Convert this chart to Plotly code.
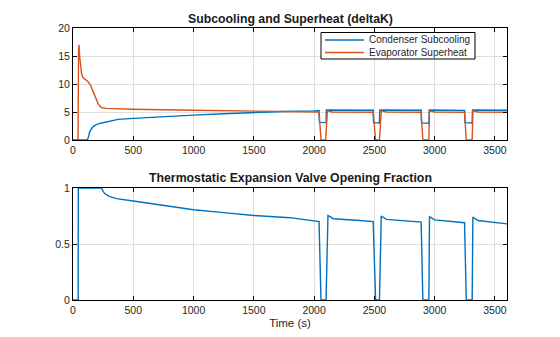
import plotly.graph_objects as go

# ---- data ----
sc_t = [0, 116, 125, 139, 166, 194, 230, 277, 374, 500, 750, 1000, 1250, 1500, 1750, 2000,
        2041, 2044, 2099, 2102, 2490, 2493, 2542, 2545, 2888, 2891, 2952, 2955,
        3248, 3251, 3311, 3314, 3600]
sc_v = [0, 0, 0.3, 1.5, 2.4, 2.75, 3.0, 3.26, 3.68, 3.86, 4.2, 4.45, 4.7, 4.93, 5.1, 5.2,
        5.25, 3.15, 3.1, 5.35, 5.3, 3.1, 3.05, 5.35, 5.3, 3.05, 3.0, 5.35,
        5.3, 3.1, 3.05, 5.35, 5.3]

sh_t = [0, 42, 46, 50, 55, 62, 70, 80, 100, 125, 145, 166, 188, 208, 225, 240, 277, 400,
        500, 1000, 1500, 2000, 2041, 2057, 2096, 2110, 2150, 2490, 2510, 2542, 2557, 2600,
        2888, 2902, 2952, 2957, 3000, 3248, 3262, 3311, 3317, 3360, 3600]
sh_v = [0, 0, 16.0, 17.0, 15.0, 13.0, 12.0, 11.2, 10.9, 10.4, 9.8, 8.7, 7.4, 6.5, 6.0, 5.75,
        5.65, 5.55, 5.5, 5.3, 5.1, 5.0, 5.0, 0, 0, 5.2, 5.0, 4.95, 0, 0, 5.2, 5.0,
        4.95, 0, 0, 5.2, 5.0, 4.95, 0, 0, 5.2, 5.0, 4.95]

v_t = [0, 43, 44, 236, 250, 263, 300, 360, 500, 750, 1000, 1250, 1500, 1800, 2041, 2057,
       2099, 2115, 2160, 2380, 2490, 2510, 2542, 2557, 2600, 2888, 2902, 2952, 2957, 3000,
       3248, 3262, 3311, 3317, 3360, 3600]
v_v = [0, 0, 1, 1, 0.97, 0.95, 0.925, 0.905, 0.884, 0.843, 0.806, 0.78, 0.755, 0.735, 0.70, 0,
       0, 0.755, 0.726, 0.71, 0.70, 0, 0, 0.75, 0.72, 0.695, 0, 0, 0.745, 0.715,
       0.69, 0, 0, 0.74, 0.71, 0.68]

x_ticks = [0, 500, 1000, 1500, 2000, 2500, 3000, 3500]
y1_ticks = [0, 5, 10, 15, 20]
y2_ticks = [0, 0.5, 1]
y2_labels = ["0", "0.5", "1"]

series_names = ["Condenser Subcooling", "Evaporator Superheat"]
title1 = "Subcooling and Superheat (deltaK)"
title2 = "Thermostatic Expansion Valve Opening Fraction"
xlabel = "Time (s)"

BLUE = "#0072BD"
ORANGE = "#D95319"
series_colors = [BLUE, ORANGE]
FONT = "Liberation Sans, Arial, Helvetica, sans-serif"
TXT = "#262626"

# plot area in pixels (used for decoration placement only)
L, R, T, B = 73, 507, 28, 300
def px(xp):
    return (xp - L) / (R - L)
def py(yp):
    return (B - yp) / (B - T)

fig = go.Figure()
fig.add_trace(go.Scatter(x=sc_t, y=sc_v, mode="lines", name=series_names[0],
                         line=dict(color=BLUE, width=1.4), xaxis="x", yaxis="y"))
fig.add_trace(go.Scatter(x=sh_t, y=sh_v, mode="lines", name=series_names[1],
                         line=dict(color=ORANGE, width=1.4), xaxis="x", yaxis="y"))
fig.add_trace(go.Scatter(x=v_t, y=v_v, mode="lines", name="Valve",
                         line=dict(color=BLUE, width=1.4), xaxis="x2", yaxis="y2"))

axis_common = dict(showline=True, linecolor="black", linewidth=1, mirror="allticks",
                   ticks="inside", ticklen=4, tickcolor="black", showgrid=True,
                   gridcolor="#dedede", gridwidth=1, zeroline=False, automargin=False,
                   tickfont=dict(family=FONT, size=10.5, color=TXT))

shapes = []
annotations = []
# legend box (MATLAB-style, compact)
shapes.append(dict(type="rect", xref="paper", yref="paper",
                   x0=px(321), x1=px(475), y0=py(59), y1=py(32.5),
                   line=dict(color="black", width=1), fillcolor="white", layer="above"))
for i, (nm, col) in enumerate(zip(series_names, series_colors)):
    yy = 40 + i * 12.5
    shapes.append(dict(type="line", xref="paper", yref="paper",
                       x0=px(325), x1=px(364), y0=py(yy), y1=py(yy),
                       line=dict(color=col, width=1.4), layer="above"))
    annotations.append(dict(text=nm, x=px(367), y=py(yy), xref="paper", yref="paper",
                            xanchor="left", yanchor="middle", showarrow=False,
                            font=dict(family=FONT, size=10, color=TXT)))

annotations.append(dict(text="<b>" + title1 + "</b>", x=0.5, y=py(18.5), xref="paper",
                        yref="paper", yanchor="middle", showarrow=False,
                        font=dict(family=FONT, size=12.3, color="#1a1a1a")))
annotations.append(dict(text="<b>" + title2 + "</b>", x=0.5, y=py(178.5), xref="paper",
                        yref="paper", yanchor="middle", showarrow=False,
                        font=dict(family=FONT, size=12.3, color="#1a1a1a")))

fig.update_layout(
    width=560, height=337,
    margin=dict(l=L, r=560 - R, t=T, b=337 - B),
    paper_bgcolor="white", plot_bgcolor="white",
    font=dict(family=FONT, color=TXT),
    showlegend=False,
    xaxis=dict(domain=[0, 1], range=[0, 3600], tickvals=x_ticks, anchor="y", **axis_common),
    yaxis=dict(domain=[py(140), 1], range=[0, 20], tickvals=y1_ticks, anchor="x", **axis_common),
    xaxis2=dict(domain=[0, 1], range=[0, 3600], tickvals=x_ticks, anchor="y2",
                title=dict(text=xlabel, font=dict(family=FONT, size=11.5, color=TXT), standoff=4),
                **axis_common),
    yaxis2=dict(domain=[0, py(188)], range=[0, 1], tickvals=y2_ticks, ticktext=y2_labels,
                anchor="x2", **axis_common),
    shapes=shapes,
    annotations=annotations,
)

fig.write_html("out.html")
